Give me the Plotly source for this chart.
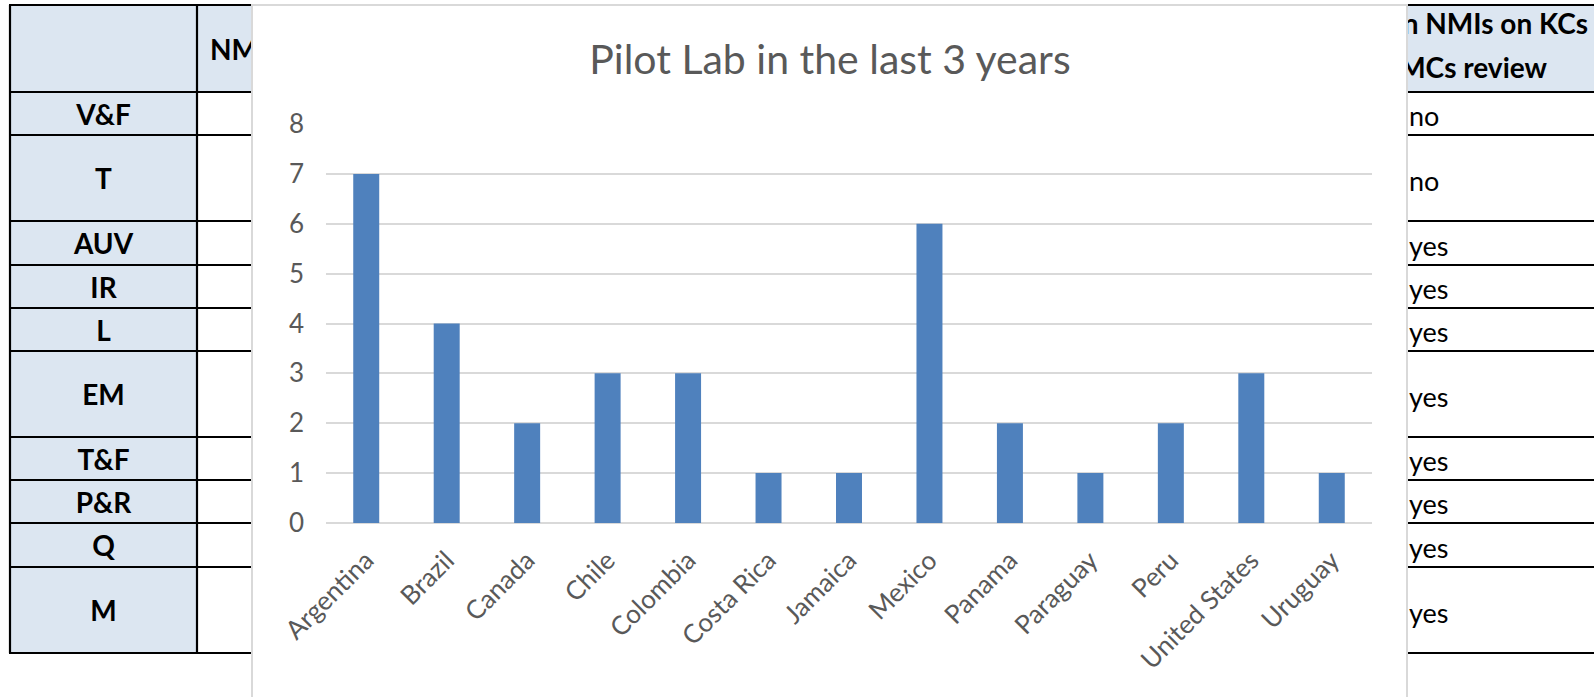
import plotly.graph_objects as go

# ---- data -------------------------------------------------------------
countries = ["Argentina", "Brazil", "Canada", "Chile", "Colombia", "Costa Rica",
             "Jamaica", "Mexico", "Panama", "Paraguay", "Peru", "United States",
             "Uruguay"]
pilot_counts = [7, 4, 2, 3, 3, 1, 1, 6, 2, 1, 2, 3, 1]

row_labels = ["V&F", "T", "AUV", "IR", "L", "EM", "T&F", "P&R", "Q", "M"]
row_answers = ["no", "no", "yes", "yes", "yes", "yes", "yes", "yes", "yes", "yes"]
header_left = "NMIs"
header_right = ["Participation in NMIs on KCs", "and CMCs review"]
y_ticks = [0, 1, 2, 3, 4, 5, 6, 7, 8]

# ---- page geometry (pixels) -------------------------------------------
W, H = 1594, 697
row_edges = [5, 92, 135, 221, 265, 308, 351, 437, 480, 523, 567, 653]
TABLE_LEFT, FIRST_COL_RIGHT, TABLE_RIGHT = 10, 197, W
PANEL_LEFT, PANEL_RIGHT, PANEL_TOP = 252, 1407, 5
PLOT_LEFT, PLOT_RIGHT, PLOT_TOP, PLOT_BOTTOM = 326, 1372, 124, 523

FONT = "Lato"
GREY_TEXT = "#595959"
GRID = "#d9d9d9"
HEAD_FILL = "#dce6f1"


def px(x):
    return x / W


def py(y):
    return 1 - y / H


shapes = []
# header band and first-column fill
shapes.append(dict(type="rect", xref="paper", yref="paper", layer="below",
                   x0=px(TABLE_LEFT), x1=px(TABLE_RIGHT + 5),
                   y0=py(row_edges[0]), y1=py(row_edges[1]),
                   fillcolor=HEAD_FILL, line=dict(width=0)))
shapes.append(dict(type="rect", xref="paper", yref="paper", layer="below",
                   x0=px(TABLE_LEFT), x1=px(FIRST_COL_RIGHT),
                   y0=py(row_edges[1]), y1=py(row_edges[-1]),
                   fillcolor=HEAD_FILL, line=dict(width=0)))
# table rules
for ye in row_edges:
    shapes.append(dict(type="line", xref="paper", yref="paper", layer="below",
                       x0=px(TABLE_LEFT - 1), x1=px(TABLE_RIGHT + 5),
                       y0=py(ye), y1=py(ye),
                       line=dict(color="black", width=2.2)))
for xe in (TABLE_LEFT, FIRST_COL_RIGHT):
    shapes.append(dict(type="line", xref="paper", yref="paper", layer="below",
                       x0=px(xe), x1=px(xe),
                       y0=py(row_edges[0]), y1=py(row_edges[-1]),
                       line=dict(color="black", width=2.2)))
# chart panel floating over the table
shapes.append(dict(type="rect", xref="paper", yref="paper", layer="below",
                   x0=px(PANEL_LEFT), x1=px(PANEL_RIGHT),
                   y0=py(PANEL_TOP), y1=py(H + 20),
                   fillcolor="white", line=dict(color=GRID, width=2)))

fig = go.Figure()

fig.add_trace(go.Bar(
    x=countries, y=pilot_counts,
    marker=dict(color="#4F81BD", line=dict(width=0)),
    hoverinfo="x+y", showlegend=False,
))

# table text, left block (clipped at the chart panel edge)
row_centres = [(a + b) / 2 for a, b in zip(row_edges[1:-1], row_edges[2:])]
fig.add_trace(go.Scatter(
    x=[(TABLE_LEFT + FIRST_COL_RIGHT) / 2] * len(row_labels),
    y=[c + 4 for c in row_centres],
    mode="text", text=[f"<b>{t}</b>" for t in row_labels],
    textposition="middle center",
    textfont=dict(family=FONT, size=28, color="black"),
    xaxis="x2", yaxis="y2", cliponaxis=True, hoverinfo="skip", showlegend=False,
))
fig.add_trace(go.Scatter(
    x=[210], y=[53], mode="text", text=[f"<b>{header_left}</b>"],
    textposition="middle right",
    textfont=dict(family=FONT, size=28, color="black"),
    xaxis="x2", yaxis="y2", cliponaxis=True, hoverinfo="skip", showlegend=False,
))

# table text, right block
fig.add_trace(go.Scatter(
    x=[1409] * len(row_answers),
    y=[c + 6 for c in row_centres],
    mode="text", text=row_answers,
    textposition="middle right",
    textfont=dict(family=FONT, size=27, color="black"),
    xaxis="x3", yaxis="y3", cliponaxis=True, hoverinfo="skip", showlegend=False,
))
fig.add_trace(go.Scatter(
    x=[1588, 1547], y=[27, 71], mode="text",
    text=[f"<b>{t}</b>" for t in header_right],
    textposition="middle left",
    textfont=dict(family=FONT, size=28, color="black"),
    xaxis="x3", yaxis="y3", cliponaxis=True, hoverinfo="skip", showlegend=False,
))

tick_font = dict(family=FONT, size=26, color=GREY_TEXT)
hidden = dict(visible=False, showgrid=False, zeroline=False, fixedrange=True,
              automargin=False)

fig.update_layout(
    template="none",
    width=W, height=H,
    margin=dict(l=0, r=0, t=0, b=0, pad=0, autoexpand=False),
    paper_bgcolor="white",
    plot_bgcolor="rgba(0,0,0,0)",
    bargap=0.677,
    showlegend=False,
    shapes=shapes,
    title=dict(text="Pilot Lab in the last 3 years",
               x=px(830), y=py(60), xref="paper", yref="paper",
               xanchor="center", yanchor="middle",
               font=dict(family=FONT, size=41, color=GREY_TEXT)),
    xaxis=dict(domain=[px(PLOT_LEFT), px(PLOT_RIGHT)], anchor="y",
               showgrid=False, showline=False, zeroline=False,
               tickangle=-45, tickfont=tick_font, ticks="",
               ticklabelstandoff=16, fixedrange=True, automargin=False),
    yaxis=dict(domain=[py(PLOT_BOTTOM), py(PLOT_TOP)], anchor="x",
               range=[0, 8], tickvals=y_ticks,
               showgrid=True, gridcolor=GRID, gridwidth=2,
               zeroline=True, zerolinecolor=GRID, zerolinewidth=2,
               showline=False, ticks="", tickfont=tick_font,
               ticklabelstandoff=21, fixedrange=True, automargin=False),
    xaxis2=dict(domain=[0, px(PANEL_LEFT - 1)], range=[0, PANEL_LEFT - 1],
                anchor="y2", **hidden),
    yaxis2=dict(domain=[0, 1], range=[H, 0], anchor="x2", **hidden),
    xaxis3=dict(domain=[px(PANEL_RIGHT + 1), 1], range=[PANEL_RIGHT + 1, W],
                anchor="y3", **hidden),
    yaxis3=dict(domain=[0, 1], range=[H, 0], anchor="x3", **hidden),
)

fig.write_html("out.html")
